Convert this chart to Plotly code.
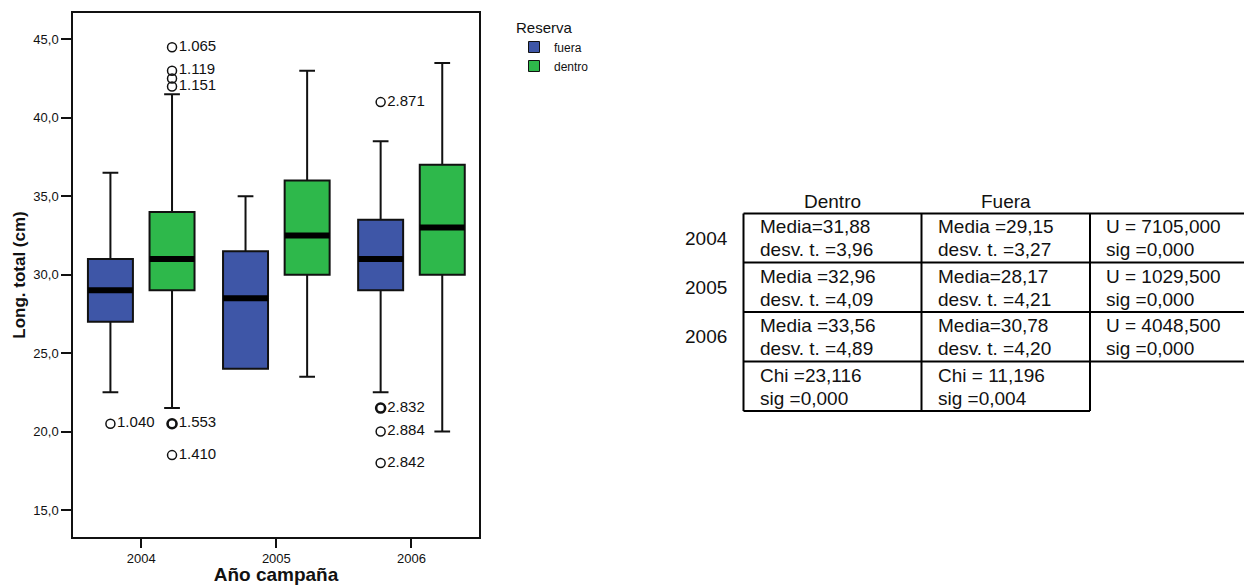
import plotly.graph_objects as go

# ---- data -------------------------------------------------------------
years = ["2004", "2005", "2006"]

# five-number summaries, Long. total (cm)
fuera_low = [22.5, 24.0, 22.5]
fuera_q1 = [27.0, 24.0, 29.0]
fuera_median = [29.0, 28.5, 31.0]
fuera_q3 = [31.0, 31.5, 33.5]
fuera_high = [36.5, 35.0, 38.5]

dentro_low = [21.5, 23.5, 20.0]
dentro_q1 = [29.0, 30.0, 30.0]
dentro_median = [31.0, 32.5, 33.0]
dentro_q3 = [34.0, 36.0, 37.0]
dentro_high = [41.5, 43.0, 43.5]

# outlying cases (year index, value, case label, number of coincident cases)
fuera_out_year = [0, 2, 2, 2, 2]
fuera_out_value = [20.5, 41.0, 21.5, 20.0, 18.0]
fuera_out_label = ["1.040", "2.871", "2.832", "2.884", "2.842"]
fuera_out_count = [1, 1, 2, 1, 1]

dentro_out_year = [0, 0, 0, 0, 0, 0]
dentro_out_value = [44.5, 43.0, 42.5, 42.0, 20.5, 18.5]
dentro_out_label = ["1.065", "1.119", "", "1.151", "1.553", "1.410"]
dentro_out_count = [1, 1, 1, 1, 2, 1]

y_ticks = [15, 20, 25, 30, 35, 40, 45]

# summary table
table_cols = ["Dentro", "Fuera"]
table_rows = ["2004", "2005", "2006"]
dentro_cells = [["Media=31,88", "desv. t. =3,96"],
                ["Media =32,96", "desv. t. =4,09"],
                ["Media =33,56", "desv. t. =4,89"],
                ["Chi =23,116", "sig =0,000"]]
fuera_cells = [["Media =29,15", "desv. t. =3,27"],
               ["Media=28,17", "desv. t. =4,21"],
               ["Media=30,78", "desv. t. =4,20"],
               ["Chi = 11,196", "sig =0,004"]]
test_cells = [["U = 7105,000", "sig =0,000"],
              ["U = 1029,500", "sig =0,000"],
              ["U = 4048,500", "sig =0,000"]]

# ---- style ------------------------------------------------------------
FONT = "Arial, 'Liberation Sans', sans-serif"
BLUE = "#3e56a7"
GREEN = "#2eb84b"
INK = "#111111"
BOX_W = 0.333
OFFSET = 0.228

W, H = 1244, 585
ML, MR, MT, MB = 73, 765, 13, 48
PW, PH = W - ML - MR, H - MT - MB


def px(x):
    return (x - ML) / PW


def py(y):
    return (H - MB - y) / PH


fig = go.Figure()

groups = [
    ("fuera", BLUE, -OFFSET, fuera_low, fuera_q1, fuera_median, fuera_q3, fuera_high,
     fuera_out_year, fuera_out_value, fuera_out_label, fuera_out_count),
    ("dentro", GREEN, OFFSET, dentro_low, dentro_q1, dentro_median, dentro_q3, dentro_high,
     dentro_out_year, dentro_out_value, dentro_out_label, dentro_out_count),
]

for (name, color, off, lo, q1, med, q3, hi, oy, ov, ol, oc) in groups:
    pos = [i + off for i in range(len(years))]
    fig.add_trace(go.Box(
        x=pos, q1=q1, median=med, q3=q3, lowerfence=lo, upperfence=hi,
        width=BOX_W, whiskerwidth=0.35, boxpoints=False,
        fillcolor=color, line=dict(color=INK, width=2),
        name=name, showlegend=False, hoverinfo="skip",
    ))
    # heavy median bars
    mx, my = [], []
    for p, m in zip(pos, med):
        mx += [p - BOX_W / 2, p + BOX_W / 2, None]
        my += [m, m, None]
    fig.add_trace(go.Scatter(x=mx, y=my, mode="lines",
                             line=dict(color="black", width=6),
                             showlegend=False, hoverinfo="skip"))
    # outliers with case labels
    fig.add_trace(go.Scatter(
        x=[i + off for i in oy], y=ov, mode="markers+text",
        text=ol, textposition="middle right",
        textfont=dict(family=FONT, size=15, color=INK),
        marker=dict(symbol="circle-open", size=9, color=INK,
                    line=dict(color=INK, width=[1.5 if c == 1 else 2.6 for c in oc])),
        showlegend=False, hoverinfo="skip",
    ))

# legend entries
for name, color in [("fuera", BLUE), ("dentro", GREEN)]:
    fig.add_trace(go.Scatter(
        x=[None], y=[None], mode="markers", name=name,
        marker=dict(symbol="square", size=11, color=color,
                    line=dict(color=INK, width=1)),
    ))

# ---- table ------------------------------------------------------------
col_x = [743.5, 921.5, 1090.0, 1252.0]
row_y = [213.5, 262.5, 312.0, 361.5, 411.0]
LW = 2

shapes = []
for j, y in enumerate(row_y):
    x_end = col_x[3] if j < 4 else col_x[2]
    shapes.append(dict(type="line", xref="paper", yref="paper",
                       x0=px(col_x[0]), x1=px(x_end), y0=py(y), y1=py(y),
                       line=dict(color="black", width=LW)))
for k, x in enumerate(col_x[:3]):
    shapes.append(dict(type="line", xref="paper", yref="paper",
                       x0=px(x), x1=px(x), y0=py(row_y[0]), y1=py(row_y[4]),
                       line=dict(color="black", width=LW)))

annotations = []
TFS = 19


def txt(x, y, s, anchor="left"):
    annotations.append(dict(xref="paper", yref="paper", x=px(x), y=py(y), text=s,
                            showarrow=False, xanchor=anchor, yanchor="middle",
                            font=dict(family=FONT, size=TFS, color=INK)))


for k, head in enumerate(table_cols):
    txt((col_x[k] + col_x[k + 1]) / 2, 201.5, head, "center")
for r, lab in enumerate(table_rows):
    txt(706, (row_y[r] + row_y[r + 1]) / 2, lab, "center")

for c, cells in enumerate([dentro_cells, fuera_cells, test_cells]):
    for r, (l1, l2) in enumerate(cells):
        top = row_y[r]
        txt(col_x[c] + 14, top + 13.5, l1)
        txt(col_x[c] + 14, top + 36.5, l2)

fig.update_layout(
    width=W, height=H,
    margin=dict(l=ML, r=MR, t=MT, b=MB),
    plot_bgcolor="white", paper_bgcolor="white",
    separators=",.",
    font=dict(family=FONT, color=INK),
    boxmode="overlay",
    shapes=shapes, annotations=annotations,
    legend=dict(
        title=dict(text="Reserva", font=dict(family=FONT, size=15, color=INK)),
        font=dict(family=FONT, size=12, color=INK),
        x=px(514), y=1.0, xanchor="left", yanchor="top",
        bgcolor="rgba(0,0,0,0)", tracegroupgap=0,
    ),
    xaxis=dict(
        range=[-0.505, 2.5], tickmode="array",
        tickvals=list(range(len(years))), ticktext=years,
        ticks="outside", ticklen=9, tickwidth=1.5, tickcolor=INK,
        tickfont=dict(size=13),
        showline=True, linecolor=INK, linewidth=1.5, mirror=True,
        showgrid=False, zeroline=False,
        title=dict(text="Año campaña", standoff=10,
                   font=dict(size=19, weight="bold")),
        automargin=False,
    ),
    yaxis=dict(
        range=[13.28, 46.68], tickmode="array", tickvals=y_ticks,
        tickformat=".1f",
        ticks="outside", ticklen=10, tickwidth=1.5, tickcolor=INK,
        tickfont=dict(size=13),
        showline=True, linecolor=INK, linewidth=1.5, mirror=True,
        showgrid=False, zeroline=False,
        title=dict(text="Long. total (cm)", standoff=3,
                   font=dict(size=17, weight="bold")),
        automargin=False,
    ),
)

fig.write_html("out.html")
